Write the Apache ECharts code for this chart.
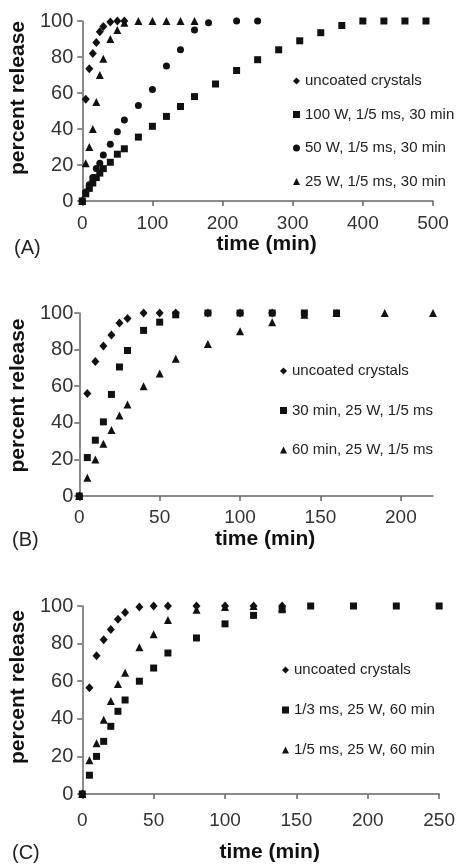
<!DOCTYPE html>
<html>
<head>
<meta charset="utf-8">
<script src="https://cdn.jsdelivr.net/npm/echarts@6/dist/echarts.min.js"></script>
<style>
  html, body { margin: 0; padding: 0; background: #fff; }
  #chart { width: 458px; height: 864px; }
</style>
</head>
<body>
<div id="chart"></div>
<script>
// release curves
var yTicks = [0, 20, 40, 60, 80, 100];
var aXTicks = [0, 100, 200, 300, 400, 500];
var bXTicks = [0, 50, 100, 150, 200];
var cXTicks = [0, 50, 100, 150, 200, 250];

// (A)
var aNames = ['uncoated crystals', '100 W, 1/5 ms, 30 min', '50 W, 1/5 ms, 30 min', '25 W, 1/5 ms, 30 min'];
var aDiamondT = [0, 5, 10, 15, 20, 25, 30, 40, 50, 60];
var aDiamondV = [0, 56.5, 73.5, 82, 88, 94, 97, 99.5, 100, 100];
var aSquareT = [0, 5, 10, 15, 20, 25, 30, 40, 50, 60, 80, 100, 120, 140, 160, 190, 220, 250, 280, 310, 340, 370, 400, 430, 460, 490];
var aSquareV = [0, 4, 7, 10, 13, 15.5, 18, 21.5, 26, 29, 35.5, 41.5, 47, 52.5, 58, 65, 72.5, 78.5, 84, 89, 93.5, 97.5, 100, 100, 100, 100];
var aCircleT = [0, 5, 10, 15, 20, 25, 30, 40, 50, 60, 80, 100, 120, 140, 160, 180, 220, 250];
var aCircleV = [0, 5, 9, 13, 18, 21, 25.5, 31.5, 38.5, 45, 53, 62, 75, 84, 95, 99, 100, 100];
var aTriT = [0, 5, 10, 15, 20, 25, 30, 40, 50, 60, 80, 100, 120, 140, 160];
var aTriV = [0, 21, 30, 40, 55, 70, 79, 90, 95, 99, 100, 100, 100, 100, 100];

// (B)
var bNames = ['uncoated crystals', '30 min, 25 W, 1/5 ms', '60 min, 25 W, 1/5 ms'];
var bDiamondT = [0, 5, 10, 15, 20, 25, 30, 40, 50, 60, 80, 100, 120];
var bDiamondV = [0, 56, 73.5, 82, 88, 94.5, 97, 100, 100, 100, 100, 100, 100];
var bSquareT = [0, 5, 10, 15, 20, 25, 30, 40, 50, 60, 80, 100, 120, 140, 160];
var bSquareV = [0, 21, 30.5, 40.5, 55.5, 70.5, 79.5, 90.5, 95, 99, 100, 100, 100, 100, 100];
var bTriT = [0, 5, 10, 15, 20, 25, 30, 40, 50, 60, 80, 100, 120, 140, 160, 190, 220];
var bTriV = [0, 10, 20, 28.5, 36, 44, 50, 60, 67, 75, 83, 90, 95, 99, 100, 100, 100];

// (C)
var cNames = ['uncoated crystals', '1/3 ms, 25 W, 60 min', '1/5 ms, 25 W, 60 min'];
var cDiamondT = [0, 5, 10, 15, 20, 25, 30, 40, 50, 60, 80, 100, 120, 140];
var cDiamondV = [0, 56.5, 73.5, 82, 87.5, 93, 96.5, 99.5, 100, 100, 100, 100, 100, 100];
var cSquareT = [0, 5, 10, 15, 20, 25, 30, 40, 50, 60, 80, 100, 120, 140, 160, 190, 220, 250];
var cSquareV = [0, 10, 20, 28, 36, 44, 50, 60, 67, 75, 83, 90.5, 95, 98, 100, 100, 100, 100];
var cTriT = [0, 5, 10, 15, 20, 25, 30, 40, 50, 60, 80, 100, 120, 140];
var cTriV = [0, 18, 27, 39.5, 49.5, 58.5, 64.5, 78, 85, 92.5, 98, 99.5, 100, 99];

var FONT = 'Liberation Sans, Arial, Helvetica, sans-serif';
var INK = '#111';

function pairs(t, v) {
    return t.map(function (x, i) { return [x, v[i]]; });
}

function dots(name, idx, t, v, symbol, size) {
    return {
        name: name,
        type: 'scatter',
        xAxisIndex: idx,
        yAxisIndex: idx,
        symbol: symbol,
        symbolSize: size,
        itemStyle: { color: INK, opacity: 1 },
        data: pairs(t, v)
    };
}

function xAxis(idx, max, ticks, labelMargin, nameGap) {
    return {
        gridIndex: idx,
        type: 'value',
        min: 0,
        max: max,
        name: 'time (min)',
        nameLocation: 'middle',
        nameGap: nameGap,
        nameTextStyle: { fontFamily: FONT, fontSize: 21, fontWeight: 'bold', color: INK, padding: [0, 0, 0, 18] },
        splitLine: { show: false },
        axisLine: { lineStyle: { color: '#666', width: 1.5 } },
        axisTick: { length: 5, lineStyle: { color: '#666', width: 1.5 }, customValues: ticks },
        axisLabel: { customValues: ticks, margin: labelMargin, fontFamily: FONT, fontSize: 19, color: '#333' }
    };
}

function yAxis(idx, nameGap, labelMargin, shiftUp) {
    return {
        gridIndex: idx,
        type: 'value',
        min: 0,
        max: 100,
        name: 'percent release',
        nameLocation: 'middle',
        nameGap: nameGap,
        nameTextStyle: { fontFamily: FONT, fontSize: 21, fontWeight: 'bold', color: INK, padding: [0, 0, 0, shiftUp * 2] },
        splitLine: { show: false },
        axisLine: { show: true, lineStyle: { color: '#666', width: 1.5 } },
        axisTick: { show: true, length: 5, lineStyle: { color: '#666', width: 1.5 }, customValues: yTicks },
        axisLabel: { customValues: yTicks, margin: labelMargin, fontFamily: FONT, fontSize: 20, color: '#333' }
    };
}

function legend(names, left, top, gap) {
    return {
        data: names,
        orient: 'vertical',
        left: left,
        top: top,
        itemGap: gap,
        itemWidth: 7,
        itemHeight: 7,
        selectedMode: false,
        textStyle: { fontFamily: FONT, fontSize: 15, color: '#222', lineHeight: 16 }
    };
}

var chart = echarts.init(document.getElementById('chart'));

var option = {
    backgroundColor: '#fff',
    animation: false,
    grid: [
        { left: 80, right: 25, top: 21, height: 180 },
        { left: 73, right: 25, top: 313, height: 183 },
        { left: 81, right: 18, top: 606, height: 189 }
    ],
    xAxis: [
        xAxis(0, 500, aXTicks, 13, 30),
        xAxis(1, 220, bXTicks, 12, 33),
        xAxis(2, 250, cXTicks, 17, 48)
    ],
    yAxis: [
        yAxis(0, 46, 9, 13),
        yAxis(1, 39, 6, 9),
        yAxis(2, 47, 9, 13)
    ],
    legend: [
        legend(aNames, 288, 68, 17.5),
        legend(bNames, 275, 358, 23.5),
        legend(cNames, 277, 657, 24)
    ],
    graphic: [
        { type: 'text', left: 14, top: 238, style: { text: '(A)', fontFamily: FONT, fontSize: 20, fill: '#222' } },
        { type: 'text', left: 12, top: 530, style: { text: '(B)', fontFamily: FONT, fontSize: 20, fill: '#222' } },
        { type: 'text', left: 12, top: 843, style: { text: '(C)', fontFamily: FONT, fontSize: 20, fill: '#222' } }
    ],
    series: [
        dots(aNames[1], 0, aSquareT, aSquareV, 'rect', 7),
        dots(aNames[2], 0, aCircleT, aCircleV, 'circle', 7),
        dots(aNames[3], 0, aTriT, aTriV, 'triangle', 8),
        dots(aNames[0], 0, aDiamondT, aDiamondV, 'diamond', [8, 9]),

        dots(bNames[1], 1, bSquareT, bSquareV, 'rect', 7),
        dots(bNames[2], 1, bTriT, bTriV, 'triangle', 8),
        dots(bNames[0], 1, bDiamondT, bDiamondV, 'diamond', [8, 9]),

        dots(cNames[1], 2, cSquareT, cSquareV, 'rect', 7),
        dots(cNames[2], 2, cTriT, cTriV, 'triangle', 8),
        dots(cNames[0], 2, cDiamondT, cDiamondV, 'diamond', [8, 9])
    ]
};

chart.setOption(option);
</script>
</body>
</html>
